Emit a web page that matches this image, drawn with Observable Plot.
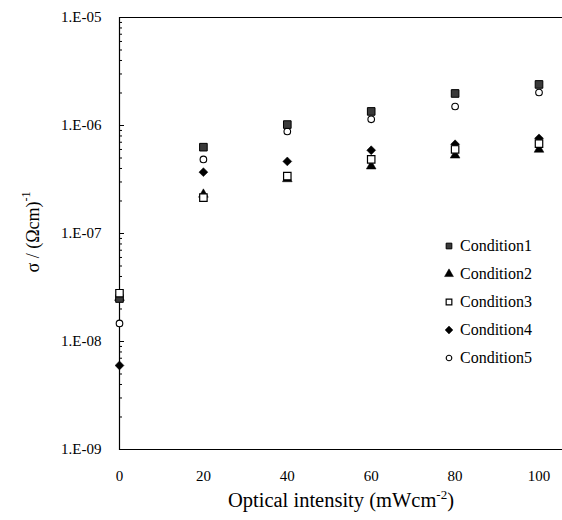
<!DOCTYPE html>
<html>
<head>
<meta charset="utf-8">
<script src="https://cdn.jsdelivr.net/npm/d3@7"></script>
<script src="https://cdn.jsdelivr.net/npm/@observablehq/plot@0.6"></script>
<style>
  html, body { margin: 0; padding: 0; background: #fff; }
  #wrap { position: relative; width: 562px; height: 520px; }
  #legend { position: absolute; left: 440px; top: 232px; font-family: "Liberation Serif", "DejaVu Serif", Times, serif; font-size: 16px; color: #000; }
  #legend .row { display: flex; align-items: center; height: 28px; }
  #legend svg { width: 18px; height: 18px; margin-right: 2px; }
  svg text { font-family: "Liberation Serif", "DejaVu Serif", Times, serif; }
</style>
</head>
<body>
<div id="wrap"><div id="legend"></div></div>
<script>
// ---- data ----
const intensity = [0, 20, 40, 60, 80, 100];
const condition1 = [2.5e-8, 6.3e-7, 1.02e-6, 1.35e-6, 1.98e-6, 2.4e-6];
const condition2 = [2.55e-8, 2.3e-7, 3.2e-7, 4.2e-7, 5.3e-7, 6.0e-7];
const condition3 = [2.8e-8, 2.15e-7, 3.4e-7, 4.85e-7, 6.0e-7, 6.8e-7];
const condition4 = [6.0e-9, 3.7e-7, 4.65e-7, 5.9e-7, 6.7e-7, 7.6e-7];
const condition5 = [1.47e-8, 4.85e-7, 8.8e-7, 1.14e-6, 1.5e-6, 2.02e-6];
const seriesNames = ["Condition1", "Condition2", "Condition3", "Condition4", "Condition5"];
const xTicks = [0, 20, 40, 60, 80, 100];
const yMajor = [1e-9, 1e-8, 1e-7, 1e-6, 1e-5];
const yTickLabels = ["1.E-09", "1.E-08", "1.E-07", "1.E-06", "1.E-05"];

const FONT = "Liberation Serif, DejaVu Serif, Times, serif";

const seriesValues = [condition1, condition2, condition3, condition4, condition5];
const styles = [
  {symbol: "square", r: 4.3, fill: "#3a3a3a", stroke: "#000", strokeWidth: 1},
  {symbol: "triangle", r: 3.6, fill: "#000", stroke: "#000", strokeWidth: 0.5},
  {symbol: "square", r: 4.2, fill: "#fff", stroke: "#000", strokeWidth: 1.2},
  {symbol: "diamond2", r: 4.0, fill: "#000", stroke: "#000", strokeWidth: 0.5},
  {symbol: "circle", r: 3.3, fill: "#fff", stroke: "#000", strokeWidth: 1.1}
];

const data = [];
seriesValues.forEach((vals, s) => vals.forEach((v, i) => data.push({series: seriesNames[s], x: intensity[i], y: v})));

const yMinor = [];
for (let e = -9; e < -5; e++) for (let m = 2; m <= 9; m++) yMinor.push(m * Math.pow(10, e));

const drawOrder = [4, 3, 1, 0, 2];
const dotMarks = drawOrder.map(s => Plot.dot(data.filter(d => d.series === seriesNames[s]), {
  x: "x", y: "y", ...styles[s]
}));

const chart = Plot.plot({
  width: 562,
  height: 520,
  marginLeft: 119,
  marginRight: 0,
  marginTop: 17,
  marginBottom: 71,
  style: {fontFamily: FONT, fontSize: "15px", color: "#000", background: "#fff", overflow: "visible"},
  x: {domain: [0, 105.6]},
  y: {type: "log", domain: [1e-9, 1e-5]},
  marks: [
    Plot.axisY(yMinor, {tickSize: 3, dx: 3, tickFormat: () => "", label: null, stroke: "#000"}),
    Plot.axisY(yMajor, {tickSize: 5, dx: 5, tickFormat: () => "", label: null, stroke: "#000"}),
    Plot.axisY(yMajor, {tickSize: 0, tickPadding: 18, tickFormat: (d) => yTickLabels[yMajor.indexOf(d)], label: null, fontSize: 15}),
    Plot.axisX(xTicks, {tickSize: 0, tickPadding: 21, label: null, fontSize: 15}),
    Plot.frame({anchor: "left", stroke: "#000", strokeWidth: 1.2}),
    Plot.frame({anchor: "top", stroke: "#000", strokeWidth: 1}),
    Plot.frame({anchor: "bottom", stroke: "#000", strokeWidth: 1}),
    ...dotMarks
  ]
});

document.getElementById("wrap").prepend(chart);

// axis titles with superscripts
const svg = d3.select(chart);
const xt = svg.append("text")
  .attr("x", 341).attr("y", 507)
  .attr("text-anchor", "middle")
  .style("font-family", FONT)
  .attr("font-size", 20.5).attr("fill", "#000");
xt.append("tspan").text("Optical intensity (mWcm");
xt.append("tspan").attr("font-size", 13).attr("dy", -8).text("-2");
xt.append("tspan").attr("dy", 8).text(")");

const yt = svg.append("text")
  .attr("transform", "translate(39,232) rotate(-90)")
  .attr("text-anchor", "middle")
  .style("font-family", FONT)
  .attr("font-size", 18).attr("fill", "#000");
yt.append("tspan").text("σ / (Ωcm)");
yt.append("tspan").attr("font-size", 12).attr("dy", -9).text("-1");

// legend
const legend = d3.select("#legend");
const legendR = [3.2, 3.3, 3.2, 3.5, 2.8];
const symMap = {square: d3.symbolSquare, triangle: d3.symbolTriangle, diamond2: d3.symbolDiamond2, circle: d3.symbolCircle};
seriesNames.forEach((name, s) => {
  const row = legend.append("div").attr("class", "row");
  const sw = row.append("svg").attr("viewBox", "-9 -9 18 18");
  const st = styles[s];
  sw.append("path")
    .attr("d", d3.symbol(symMap[st.symbol], Math.PI * legendR[s] * legendR[s])())
    .attr("fill", st.fill).attr("stroke", st.stroke).attr("stroke-width", st.strokeWidth);
  row.append("span").text(name);
});
</script>
</body>
</html>
